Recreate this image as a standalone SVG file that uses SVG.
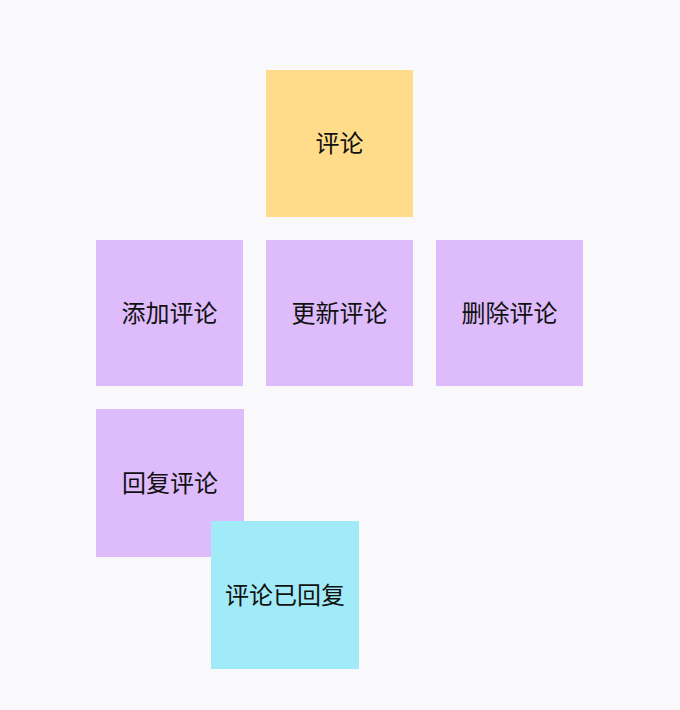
<svg xmlns="http://www.w3.org/2000/svg" width="680" height="710" viewBox="0 0 680 710">
<style>
.lbl{font-family:"Noto Sans CJK SC","Liberation Sans",sans-serif;font-size:24px;fill:#111;text-anchor:middle;dominant-baseline:central}
.y{fill:#FFDC8A}
.p{fill:#DEBBFB}
.c{fill:#A1EBF8}
</style>
<rect width="680" height="710" fill="#F9F8FA"/>
<g id="connectors"></g>
<g id="n-comment"><rect class="y" x="266" y="70" width="147" height="147"/><text class="lbl" x="339.5" y="141">评论</text></g>
<g id="n-add"><rect class="p" x="96" y="240" width="147" height="146"/><text class="lbl" x="169.5" y="311">添加评论</text></g>
<g id="n-update"><rect class="p" x="266" y="240" width="147" height="146"/><text class="lbl" x="339.5" y="311">更新评论</text></g>
<g id="n-delete"><rect class="p" x="436" y="240" width="147" height="146"/><text class="lbl" x="509.5" y="311">删除评论</text></g>
<g id="n-reply"><rect class="p" x="96" y="409" width="148" height="148"/><text class="lbl" x="170" y="481">回复评论</text></g>
<g id="n-replied"><rect class="c" x="211" y="521" width="148" height="148"/><text class="lbl" x="285" y="593">评论已回复</text></g>
</svg>
